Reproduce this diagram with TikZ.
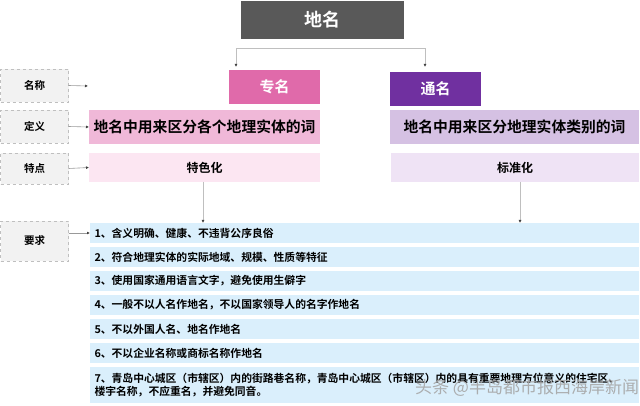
\documentclass[tikz,border=0pt]{standalone}
\usepackage{fontspec}
\setmainfont{Noto Sans CJK SC}[BoldFont={* Bold}]
\usetikzlibrary{arrows.meta}
\definecolor{topgray}{HTML}{595959}
\definecolor{zpink}{HTML}{E06AAA}
\definecolor{tpurple}{HTML}{7030A0}
\definecolor{defpink}{HTML}{F0B8D8}
\definecolor{deflav}{HTML}{D5C1E3}
\definecolor{featpink}{HTML}{FCE6F2}
\definecolor{featlav}{HTML}{EFE3F5}
\definecolor{rowblue}{HTML}{DAEFFC}
\definecolor{lblfill}{HTML}{F2F2F2}
\definecolor{lbldraw}{HTML}{BFBFBF}
\definecolor{linegray}{HTML}{BFBFBF}
\definecolor{tipgray}{HTML}{404040}
\tikzset{
  box/.style={anchor=north west, inner sep=0pt, outer sep=0pt, draw=none, font=\bfseries},
  lbl/.style={box, fill=lblfill, draw=lbldraw, dashed, line width=0.6pt, minimum width=68pt, font=\bfseries\fontsize{10.5}{12}\selectfont, text=black},
  rowbox/.style={box, fill=rowblue, minimum width=549pt, minimum height=20pt, text width=540pt, align=left, font=\bfseries\fontsize{10.8}{13}\selectfont, text=black},
  conn/.style={draw=linegray, line width=0.8pt, -{Latex[length=3pt,width=3pt,color=tipgray]}},
  sconn/.style={draw=gray!80, line width=0.6pt, -{Latex[length=3pt,width=3pt,color=tipgray]}},
  wm/.style={anchor=base west, font=\fontsize{17}{17}\selectfont, inner sep=0pt}
}
\begin{document}
\begin{tikzpicture}[x=1pt,y=-1pt]
\useasboundingbox (0,0) rectangle (640,406);
% top
\node[box, fill=topgray, minimum width=163pt, minimum height=38pt, text=white, font=\bfseries\fontsize{18}{20}\selectfont] (top) at (241,1) {地名};
\node[box, fill=zpink, minimum width=91pt, minimum height=34pt, text=white, font=\bfseries\fontsize{15}{17}\selectfont] (zm) at (229,70) {专名};
\node[box, fill=tpurple, minimum width=91pt, minimum height=34pt, text=white, font=\bfseries\fontsize{15}{17}\selectfont] (tm) at (390,72) {通名};
\coordinate (cl) at (236,48);
\coordinate (cr) at (425,48);
\coordinate (al) at (236,67);
\coordinate (ar) at (425,67);
\draw[conn] (cr) -- (cl) -- (al);
\draw[conn] (cl) -- (cr) -- (ar);
% left labels
\node[lbl, minimum height=33pt] (l1) at (0.5,69) {名称};
\node[lbl, minimum height=33pt] (l2) at (0.5,110) {定义};
\node[lbl, minimum height=31pt] (l3) at (0.5,153) {特点};
\node[lbl, minimum height=40pt] (l4) at (0.5,221) {要求};
% definition row
\node[box, fill=defpink, minimum width=231pt, minimum height=34pt, font=\bfseries\fontsize{14.8}{16}\selectfont] (dp) at (89,110) {地名中用来区分各个地理实体的词};
\node[box, fill=deflav, minimum width=249pt, minimum height=34pt, font=\bfseries\fontsize{14.8}{16}\selectfont] (dl) at (390,110) {地名中用来区分地理实体类别的词};
% feature row
\node[box, fill=featpink, minimum width=231pt, minimum height=29pt, font=\bfseries\fontsize{12}{14}\selectfont] (fp) at (89,153) {特色化};
\node[box, fill=featlav, minimum width=248pt, minimum height=29pt, font=\bfseries\fontsize{12}{14}\selectfont] (fl) at (391,153) {标准化};
% requirement rows
\node[rowbox] (r1) at (90,223) {1、含义明确、健康、不违背公序良俗};
\node[rowbox] (r2) at (90,247) {2、符合地理实体的实际地域、规模、性质等特征};
\node[rowbox] (r3) at (90,271) {3、使用国家通用语言文字，避免使用生僻字};
\node[rowbox] (r4) at (90,295) {4、一般不以人名作地名，不以国家领导人的名字作地名};
\node[rowbox] (r5) at (90,319) {5、不以外国人名、地名作地名};
\node[rowbox] (r6) at (90,343) {6、不以企业名称或商标名称作地名};
\node[rowbox, minimum height=36pt] (r7) at (90,367) {7、青岛中心城区（市辖区）内的街路巷名称，青岛中心城区（市辖区）内的具有重要地理方位意义的住宅区、\\楼宇名称，不应重名，并避免同音。};
% side arrows
\coordinate (a1) at (88,86);
\draw[sconn] (l1.east) -- (a1);
\draw[sconn] (l2.east) -- (dp.west);
\draw[sconn] (l3.east) -- (fp.west);
\draw[sconn] (l4.east |- r1.west) -- (r1.west);
% down arrows
\draw[conn] ([xshift=-1.5pt]fp.south) -- ([xshift=-1.5pt]fp.south |- r1.north);
\draw[conn] ([xshift=5pt]fl.south) -- ([xshift=5pt]fl.south |- r1.north);
% watermark
\node[wm, text=gray!70, opacity=0.9] (wmk) at (415,393) {头条 @半岛都市报西海岸新闻};
\end{tikzpicture}
\end{document}
